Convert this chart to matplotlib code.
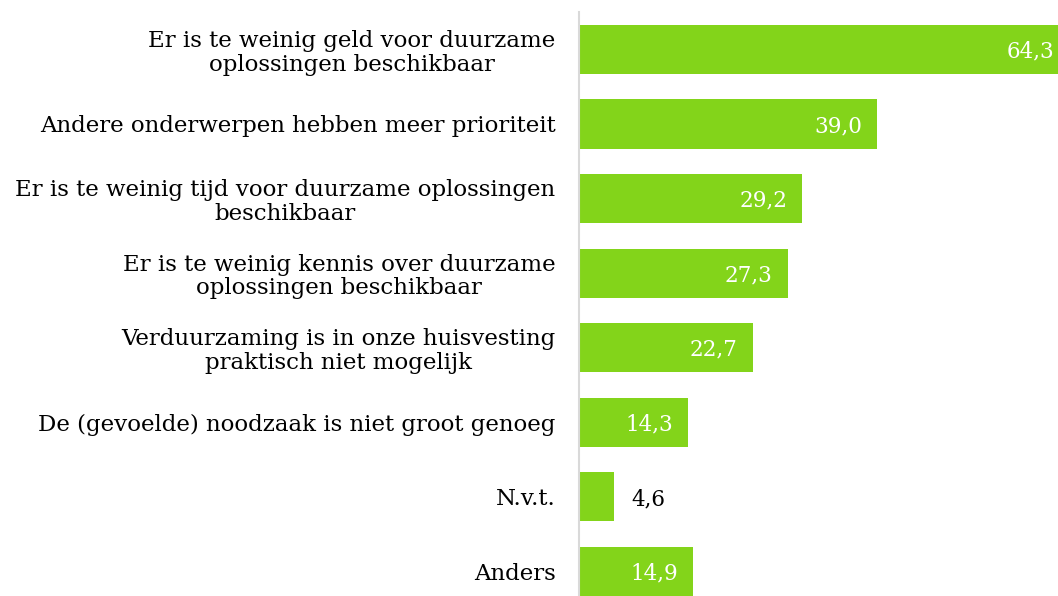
import matplotlib
matplotlib.use("Agg")
import matplotlib.pyplot as plt

# gegevens
labels = [
    "Er is te weinig geld voor duurzame\noplossingen beschikbaar",
    "Andere onderwerpen hebben meer prioriteit",
    "Er is te weinig tijd voor duurzame oplossingen\nbeschikbaar",
    "Er is te weinig kennis over duurzame\noplossingen beschikbaar",
    "Verduurzaming is in onze huisvesting\npraktisch niet mogelijk",
    "De (gevoelde) noodzaak is niet groot genoeg",
    "N.v.t.",
    "Anders",
]
values = [64.3, 39.0, 29.2, 27.3, 22.7, 14.3, 4.6, 14.9]

GREEN = "#83D41A"
plt.rcParams["font.family"] = ["DejaVu Serif"]

fig = plt.figure(figsize=(10.58, 5.96), dpi=100)
ax = fig.add_axes([579 / 1058, 0, 1 - 579 / 1058, 0.98])

pos = list(range(len(values)))
bars = ax.barh(pos, values, height=0.66, color=GREEN)

ax.set_xlim(0, 62.6)
ax.set_ylim(7.33, -0.503)

ax.set_yticks(pos)
ax.set_yticklabels(labels, fontsize=16.5, multialignment="center", linespacing=1.1)
ax.tick_params(axis="y", length=0, pad=17)
ax.set_xticks([])

for s in ["top", "right", "bottom"]:
    ax.spines[s].set_visible(False)
ax.spines["left"].set_color("#D9D9D9")
ax.spines["left"].set_linewidth(1.5)

# waarden bij de balken
for p, v in zip(pos, values):
    txt = f"{v:.1f}".replace(".", ",")
    if v < 8:
        ax.text(v + 2.2, p + 0.03, txt, va="center", ha="left", fontsize=15.5, color="black")
    elif v > 62.6:
        ax.text(62.6 - 0.5, p + 0.03, txt, va="center", ha="right", fontsize=15.5, color="white")
    else:
        ax.text(v - 2.0, p + 0.03, txt, va="center", ha="right", fontsize=15.5, color="white")

fig.savefig("out.png", dpi=100)
